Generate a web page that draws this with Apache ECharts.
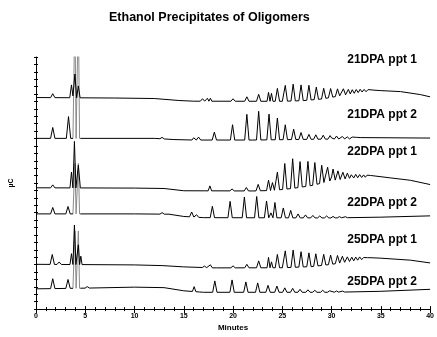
<!DOCTYPE html>
<html>
<head>
<meta charset="utf-8">
<script src="https://cdn.jsdelivr.net/npm/echarts@6/dist/echarts.min.js"></script>
<style>
  html, body { margin: 0; background: #fff; }
  #chart { width: 437px; height: 337px; }
</style>
</head>
<body>
<div id="chart"></div>
<script>
// trace names, top to bottom
const traceNames = ["21DPA ppt 1", "21DPA ppt 2", "22DPA ppt 1", "22DPA ppt 2", "25DPA ppt 1", "25DPA ppt 2"];
const xTicks = [0, 5, 10, 15, 20, 25, 30, 35, 40];

// baseline (with offset) per trace: [minutes, µC]
const base21a = [[0, 214], [8, 213.5], [12, 213], [14.5, 211], [16, 210.3], [25, 210.2], [27, 210.8], [29, 212.5], [31, 216], [33, 219.5], [35, 221], [37, 220], [39, 217], [40, 214.7]];
const base21b = [[0, 172.7], [12, 172.7], [14, 171.5], [16, 171], [22, 171], [30, 172], [40, 173]];
const base22a = [[0, 122.7], [10, 122.4], [13, 122], [15, 119.7], [22, 119.5], [24, 120], [26, 122], [28, 125], [30, 130], [32, 132.5], [34, 133.7], [36, 132.7], [38, 130.3], [40, 126]];
const base22b = [[0, 96.3], [10, 96.3], [13.5, 96], [15, 93.7], [17, 92.5], [30, 92.2], [35, 93], [40, 94.3]];
const base25a = [[0, 45.3], [10, 44.7], [12.8, 44], [15, 42.7], [18, 41.7], [25, 41.8], [28, 43], [30, 45.3], [33, 50], [35, 51.5], [38, 49.5], [40, 46.7]];
const base25b = [[0, 20.5], [5, 21.2], [10, 22.2], [13, 21.7], [15, 18.5], [17, 17], [30, 17], [35, 18], [40, 20]];

// peaks per trace: [retention time, height above baseline]
const peaks21a = [[1.7, 4], [3.6, 13], [3.95, 24], [4.3, 12], [16.9, 2.5], [17.4, 3], [17.7, 3], [20.0, 2.5], [21.4, 4.5], [22.6, 7], [23.6, 9], [23.9, 8], [24.5, 13], [25.3, 16], [26.1, 17], [26.9, 16], [27.7, 15], [28.45, 12.5], [29.2, 10.5], [29.9, 9], [30.6, 7.5], [31.2, 6.5], [31.7, 5], [32.1, 4], [32.5, 3.5], [32.9, 3], [33.3, 2.5], [33.7, 2], [34.0, 1.5], [34.3, 1]];
const peaks21b = [[1.7, 11], [3.3, 22], [3.95, 130], [4.3, 130], [12.8, 1.5], [16.05, 3], [16.5, 3], [18.1, 8], [19.95, 15.5], [21.4, 26], [22.6, 29], [23.65, 26], [24.5, 22], [25.3, 15], [26.15, 10.5], [26.9, 7], [27.7, 5], [28.4, 4.5], [29.15, 4], [29.85, 3.5], [30.5, 3], [31.1, 2.5], [31.6, 2], [32.1, 1.8], [32.5, 1.5], [32.9, 1.2]];
const peaks22a = [[1.7, 3], [3.6, 16], [3.9, 47], [4.3, 23], [17.3, 2], [17.65, 5], [19.9, 2], [21.35, 3.5], [22.55, 6.5], [23.6, 10.5], [24.0, 8], [24.5, 18], [25.25, 26], [26.05, 30], [26.8, 26], [27.6, 25], [28.3, 22.5], [29.0, 18], [29.6, 14.5], [30.15, 11.5], [30.65, 9], [31.15, 7], [31.6, 5.5], [32.05, 4.5], [32.45, 3.5], [32.85, 3], [33.25, 2.5], [33.6, 2], [33.95, 1.5], [34.3, 1.2]];
const peaks22b = [[1.7, 6.5], [3.25, 7.5], [3.95, 51], [4.3, 51], [12.8, 1.5], [15.8, 5], [16.3, 2.5], [17.9, 11.5], [19.7, 16.5], [21.15, 21], [22.4, 21.5], [23.4, 17], [23.85, 5], [24.25, 15.5], [25.1, 10], [25.85, 7.5], [26.6, 4], [27.35, 3], [28.1, 2.5], [28.8, 2], [29.5, 2], [30.15, 1.5], [30.8, 1.2], [31.4, 1]];
const peaks25a = [[1.65, 10], [2.35, 2.5], [3.6, 11], [3.9, 40], [4.3, 20], [4.55, 8.5], [17.1, 1.5], [17.7, 3], [18.1, 2], [20.0, 2], [21.4, 3.5], [22.6, 7], [23.6, 10.5], [23.9, 6], [24.5, 13.5], [25.3, 17], [26.1, 17.5], [26.9, 15.5], [27.7, 14], [28.4, 12.5], [29.2, 11], [29.9, 9.5], [30.6, 8], [31.1, 6.5], [31.6, 5], [32.05, 4], [32.45, 3.5], [32.85, 3], [33.25, 2], [33.65, 1.5], [34.0, 1.2]];
const peaks25b = [[1.7, 10], [3.25, 9], [3.95, 58], [4.3, 58], [5.2, 1.5], [16.05, 5], [16.4, 2], [18.15, 11.5], [19.9, 12.5], [21.3, 10.5], [22.5, 9.5], [23.55, 7], [24.45, 6.3], [25.25, 4.5], [26.05, 4], [26.8, 3], [27.6, 2.5], [28.3, 2], [29.1, 2], [29.8, 1.5], [30.5, 1.2], [31.1, 1]];

const bases = [base21a, base21b, base22a, base22b, base25a, base25b];
const peakLists = [peaks21a, peaks21b, peaks22a, peaks22b, peaks25a, peaks25b];
// the tall void peaks of the "ppt 2" runs print grey in the original
const greyTraces = [1, 3, 5];
const GREY_FROM = 3.75;
const GREY_TO = 4.5;

const PEAK_HALF_WIDTH = 0.22;
const SPIKE_HALF_WIDTH = 0.12;
const FONT = '"Liberation Sans", Arial, sans-serif';

function levelAt(base, t) {
  for (let i = 1; i < base.length; i++) {
    if (t <= base[i][0]) {
      const [t0, v0] = base[i - 1];
      const [t1, v1] = base[i];
      return v0 + (v1 - v0) * (t - t0) / (t1 - t0);
    }
  }
  return base[base.length - 1][1];
}

// polyline: baseline plus a triangular outline for each listed peak
function buildTrace(base, peaks, narrowVoid) {
  const tri = peaks.map((p, i) => {
    let w = PEAK_HALF_WIDTH;
    if (narrowVoid && p[0] > GREY_FROM && p[0] < GREY_TO) w = SPIKE_HALF_WIDTH;
    if (i > 0) w = Math.min(w, (p[0] - peaks[i - 1][0]) / 2);
    if (i < peaks.length - 1) w = Math.min(w, (peaks[i + 1][0] - p[0]) / 2);
    return [p[0], p[1], w];
  });
  const times = base.map((b) => b[0]).concat([GREY_FROM, GREY_TO]);
  tri.forEach(([t, , w]) => times.push(t - w, t, t + w));
  const uniq = [...new Set(times.map((t) => +t.toFixed(4)))]
    .filter((t) => t >= 0 && t <= 40)
    .sort((a, b) => a - b);
  return uniq.map((t) => {
    let v = levelAt(base, t);
    tri.forEach(([c, h, w]) => {
      const d = Math.abs(t - c);
      if (d < w) v += h * (1 - d / w);
    });
    return [t, +v.toFixed(2)];
  });
}

const chart = echarts.init(document.getElementById("chart"), null, { renderer: "canvas" });

const axisText = { color: "#000", fontFamily: FONT, fontWeight: "bold" };
const labelTops = [54, 109, 146, 197, 234, 276];

const series = [];
traceNames.forEach((name, i) => {
  const grey = greyTraces.includes(i);
  const pts = buildTrace(bases[i], peakLists[i], grey);
  const inWindow = (t) => t > GREY_FROM && t < GREY_TO;
  series.push({
    name,
    type: "line",
    data: grey ? pts.map(([t, v]) => (inWindow(t) ? [t, "-"] : [t, v])) : pts,
    showSymbol: false,
    clip: true,
    lineStyle: { color: "#000", width: 1 },
    z: 3,
  });
  if (grey) {
    series.push({
      name: name + " void",
      type: "line",
      data: pts.filter(([t]) => t >= GREY_FROM && t <= GREY_TO),
      showSymbol: false,
      clip: true,
      lineStyle: { color: "#8a8a8a", width: 1 },
      z: 2,
    });
  }
});

chart.setOption({
  animation: false,
  backgroundColor: "#fff",
  title: {
    text: "Ethanol Precipitates of Oligomers",
    left: 104,
    top: 6,
    textStyle: { ...axisText, fontSize: 12.5 },
  },
  grid: { left: 33, right: 6, top: 57, bottom: 25 },
  xAxis: [
    {
      type: "value",
      min: 0,
      max: 40,
      interval: 5,
      name: "Minutes",
      nameLocation: "middle",
      nameGap: 14,
      nameTextStyle: { ...axisText, fontSize: 8 },
      axisLine: { lineStyle: { color: "#000", width: 1 } },
      axisTick: { length: 4, lineStyle: { color: "#000" } },
      minorTick: { show: true, splitNumber: 5, length: 2, lineStyle: { color: "#000" } },
      axisLabel: { ...axisText, fontSize: 7, margin: 3,
        formatter: (v) => (xTicks.includes(v) ? String(v) : "") },
      splitLine: { show: false },
    },
    {
      type: "value",
      min: 0,
      max: 40,
      interval: 5,
      position: "bottom",
      axisLine: { show: false },
      axisTick: { inside: true, length: 3, lineStyle: { color: "#000" } },
      minorTick: { show: true, splitNumber: 5, length: 2, lineStyle: { color: "#000" } },
      axisLabel: { show: false },
      splitLine: { show: false },
    },
  ],
  yAxis: [
    {
      type: "value",
      min: 0,
      max: 255,
      interval: 7.5,
      name: "µC",
      nameLocation: "middle",
      nameGap: 21,
      nameTextStyle: { ...axisText, fontSize: 7 },
      axisLine: { show: true, lineStyle: { color: "#000", width: 1 } },
      axisTick: { show: true, length: 2, lineStyle: { color: "#000" } },
      axisLabel: { show: false },
      splitLine: { show: false },
    },
    {
      type: "value",
      min: 0,
      max: 255,
      interval: 7.5,
      position: "left",
      axisLine: { show: false },
      axisTick: { show: true, inside: true, length: 2, lineStyle: { color: "#000" } },
      axisLabel: { show: false },
      splitLine: { show: false },
    },
  ],
  graphic: traceNames.map((name, i) => ({
    type: "text",
    right: 20,
    top: labelTops[i],
    style: { text: name, fill: "#000", font: `bold 12px ${FONT}` },
  })),
  series,
});
</script>
</body>
</html>
